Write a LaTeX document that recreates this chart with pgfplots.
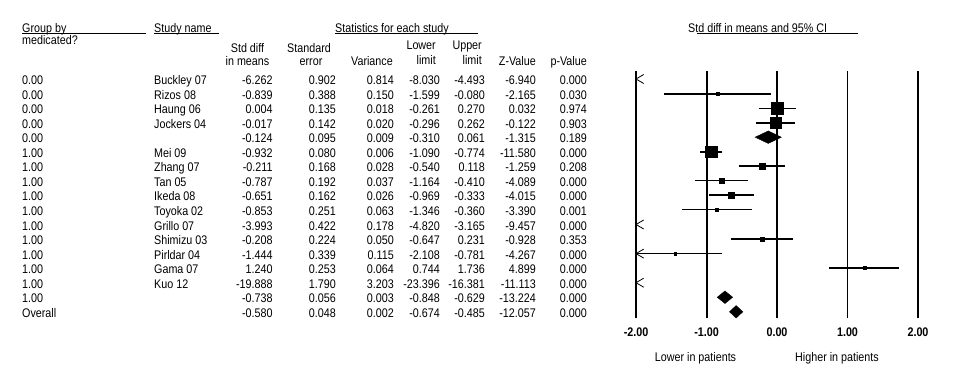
\documentclass[border=0pt]{standalone}
\usepackage{pgfplots}
\pgfplotsset{compat=1.18}
\usepackage{fontspec}
\setmainfont[FakeStretch=0.86]{Liberation Sans}
\newcommand\tfont{\fontsize{12.5}{14}\selectfont}

% open "<" used where the interval runs off the left edge
\pgfdeclareplotmark{larr}{%
  \pgfpathmoveto{\pgfqpoint{7.7pt}{4.5pt}}%
  \pgfpathlineto{\pgfqpoint{0pt}{0pt}}%
  \pgfpathlineto{\pgfqpoint{7.7pt}{-4.5pt}}%
  \pgfusepathqstroke}

\newcounter{rowno}
% group, study, std diff, se, variance, lower, upper, z, p
\newcommand\datarow[9]{%
  \stepcounter{rowno}%
  \pgfmathsetmacro\yy{384-(84.5+14.56*(\therowno-1))}%
  \node[t,anchor=base west] at (22,\yy) {#1};
  \node[t,anchor=base west] at (154,\yy) {#2};
  \node[t,anchor=base east] at (272.7,\yy) {#3};
  \node[t,anchor=base east] at (336,\yy) {#4};
  \node[t,anchor=base east] at (394,\yy) {#5};
  \node[t,anchor=base east] at (440,\yy) {#6};
  \node[t,anchor=base east] at (485,\yy) {#7};
  \node[t,anchor=base east] at (536,\yy) {#8};
  \node[t,anchor=base east] at (587,\yy) {#9};
}
% lower, upper, mean, row, line width, square half-size
\newcommand\study[6]{%
  \addplot[black, line width=#5, restrict x to domain*=-2:2, forget plot]
    coordinates {(#1,-#4) (#2,-#4)};
  \addplot[black, only marks, mark=square*, mark size=#6, forget plot]
    coordinates {(#3,-#4)};
}

\begin{document}
\begin{tikzpicture}[x=1pt,y=1pt,t/.style={inner sep=0pt,font=\tfont}]
\path[use as bounding box] (0,0) rectangle (954,384);

% headers
\node[t,anchor=base west] at (22,351.7) {Group by};
\node[t,anchor=base west] at (22,339) {medicated?};
\node[t,anchor=base west] at (154,351.7) {Study name};
\node[t,anchor=base west] at (335,351.7) {Statistics for each study};
\node[t,anchor=base west] at (688,351.7) {Std diff in means and 95\% CI};
\draw[line width=0.9pt] (22,350.4) -- (146,350.4);
\draw[line width=0.9pt] (154,350.4) -- (219,350.4);
\draw[line width=0.9pt] (335,350.4) -- (478,350.4);
\draw[line width=0.9pt] (697,350.4) -- (858,350.4);

\node[t,anchor=base] at (247.5,331.2) {Std diff};
\node[t,anchor=base] at (247.5,319) {in means};
\node[t,anchor=base] at (309,331.2) {Standard};
\node[t,anchor=base] at (311,319) {error};
\node[t,anchor=base east] at (393,319) {Variance};
\node[t,anchor=base east] at (436,334.5) {Lower};
\node[t,anchor=base east] at (436,319.5) {limit};
\node[t,anchor=base east] at (482,334.5) {Upper};
\node[t,anchor=base east] at (482,319.5) {limit};
\node[t,anchor=base east] at (536,319) {Z-Value};
\node[t,anchor=base east] at (587,319) {p-Value};

\datarow{0.00}{Buckley 07}{-6.262}{0.902}{0.814}{-8.030}{-4.493}{-6.940}{0.000}
\datarow{0.00}{Rizos 08}{-0.839}{0.388}{0.150}{-1.599}{-0.080}{-2.165}{0.030}
\datarow{0.00}{Haung 06}{0.004}{0.135}{0.018}{-0.261}{0.270}{0.032}{0.974}
\datarow{0.00}{Jockers 04}{-0.017}{0.142}{0.020}{-0.296}{0.262}{-0.122}{0.903}
\datarow{0.00}{}{-0.124}{0.095}{0.009}{-0.310}{0.061}{-1.315}{0.189}
\datarow{1.00}{Mei 09}{-0.932}{0.080}{0.006}{-1.090}{-0.774}{-11.580}{0.000}
\datarow{1.00}{Zhang 07}{-0.211}{0.168}{0.028}{-0.540}{0.118}{-1.259}{0.208}
\datarow{1.00}{Tan 05}{-0.787}{0.192}{0.037}{-1.164}{-0.410}{-4.089}{0.000}
\datarow{1.00}{Ikeda 08}{-0.651}{0.162}{0.026}{-0.969}{-0.333}{-4.015}{0.000}
\datarow{1.00}{Toyoka 02}{-0.853}{0.251}{0.063}{-1.346}{-0.360}{-3.390}{0.001}
\datarow{1.00}{Grillo 07}{-3.993}{0.422}{0.178}{-4.820}{-3.165}{-9.457}{0.000}
\datarow{1.00}{Shimizu 03}{-0.208}{0.224}{0.050}{-0.647}{0.231}{-0.928}{0.353}
\datarow{1.00}{Pirldar 04}{-1.444}{0.339}{0.115}{-2.108}{-0.781}{-4.267}{0.000}
\datarow{1.00}{Gama 07}{1.240}{0.253}{0.064}{0.744}{1.736}{4.899}{0.000}
\datarow{1.00}{Kuo 12}{-19.888}{1.790}{3.203}{-23.396}{-16.381}{-11.113}{0.000}
\datarow{1.00}{}{-0.738}{0.056}{0.003}{-0.848}{-0.629}{-13.224}{0.000}
\datarow{Overall}{}{-0.580}{0.048}{0.002}{-0.674}{-0.485}{-12.057}{0.000}

\node[t,anchor=base] at (695.5,22.8) {Lower in patients};
\node[t,anchor=base] at (837,22.8) {Higher in patients};

\begin{axis}[
  at={(636pt,65.7pt)}, anchor=south west,
  width=282pt, height=247.8pt, scale only axis,
  xmin=-2, xmax=2, ymin=-17.447, ymax=-0.416,
  axis line style={draw=none}, tick style={draw=none},
  ytick=\empty, xtick={-2,-1,0,1,2},
  xticklabels={-2.00,-1.00,0.00,1.00,2.00},
  xticklabel style={font=\tfont\bfseries, anchor=center, yshift=-13.4pt, inner sep=0pt},
  clip=false]
  % reference lines
  \addplot[black, line width=1.2pt] coordinates {(-2,-17.447) (-2,-0.416)};
  \addplot[black, line width=2pt] coordinates {(-1,-17.447) (-1,-0.416)};
  \addplot[black, line width=2pt] coordinates {(0,-17.447) (0,-0.416)};
  \addplot[black, line width=1pt] coordinates {(1,-17.447) (1,-0.416)};
  \addplot[black, line width=2pt] coordinates {(2,-17.447) (2,-0.416)};
  % studies
  \study{-1.599}{-0.080}{-0.839}{2}{2pt}{1.5}
  \study{-0.261}{0.270}{0.004}{3}{0.9pt}{6}
  \study{-0.296}{0.262}{-0.017}{4}{2pt}{5.5}
  \study{-1.090}{-0.774}{-0.932}{6}{2pt}{5.8}
  \study{-0.540}{0.118}{-0.211}{7}{2pt}{2.7}
  \study{-1.164}{-0.410}{-0.787}{8}{0.9pt}{2.5}
  \study{-0.969}{-0.333}{-0.651}{9}{2pt}{3}
  \study{-1.346}{-0.360}{-0.853}{10}{0.9pt}{1.5}
  \study{-0.647}{0.231}{-0.208}{12}{2pt}{2}
  \study{-2.108}{-0.781}{-1.444}{13}{0.9pt}{1.3}
  \study{0.744}{1.736}{1.240}{14}{2pt}{1.5}
  % off-scale lower limits
  \addplot[black, only marks, mark=larr, line width=0.8pt, restrict x to domain*=-2:2]
    coordinates {(-8.030,-1) (-4.820,-11) (-2.108,-13) (-23.396,-15)};
  % subtotals and overall
  \addplot[black, fill=black] coordinates {(-0.310,-5) (-0.124,-4.57) (0.061,-5) (-0.124,-5.43)} -- cycle;
  \addplot[black, fill=black] coordinates {(-0.848,-16) (-0.738,-15.57) (-0.629,-16) (-0.738,-16.43)} -- cycle;
  \addplot[black, fill=black] coordinates {(-0.674,-17) (-0.580,-16.57) (-0.485,-17) (-0.580,-17.43)} -- cycle;
\end{axis}
\end{tikzpicture}
\end{document}
